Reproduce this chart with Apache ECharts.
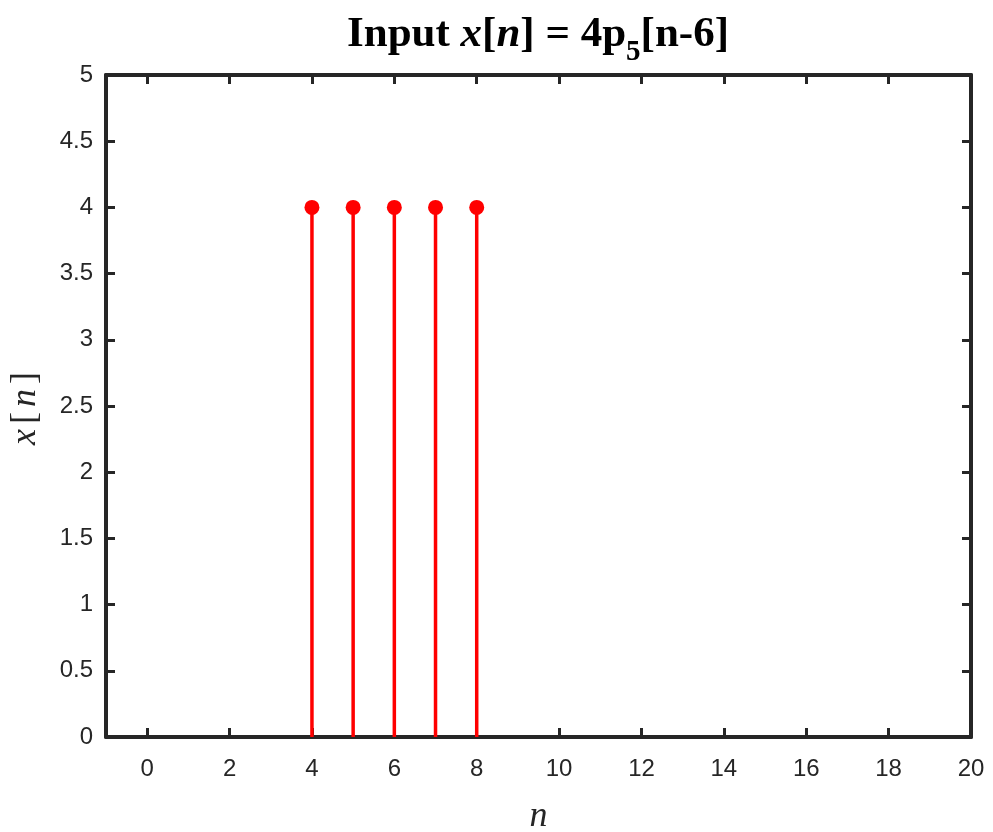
<!DOCTYPE html>
<html><head><meta charset="utf-8">
<script src="https://cdn.jsdelivr.net/npm/echarts@6/dist/echarts.min.js"></script>
<style>html,body{margin:0;padding:0;background:#fff}#c{width:993px;height:832px}</style>
</head><body><div id="c"></div>
<script>
const n = [4, 5, 6, 7, 8];
const xn = [4, 4, 4, 4, 4];
const xTicks = [0, 2, 4, 6, 8, 10, 12, 14, 16, 18, 20];
const yTicks = [0, 0.5, 1, 1.5, 2, 2.5, 3, 3.5, 4, 4.5, 5];

const pts = n.map((v, i) => [v, xn[i]]);
const axisColor = '#262626';
const serif = '"Liberation Serif","Times New Roman",serif';
const sans = '"Liberation Sans",Arial,Helvetica,sans-serif';

const chart = echarts.init(document.getElementById('c'), null, {renderer: 'canvas'});
const commonX = {
  type: 'value', min: -1, max: 20,
  axisLine: {show: true, onZero: false, lineStyle: {color: axisColor, width: 4}},
  axisTick: {show: true, inside: true, length: 9, lineStyle: {color: axisColor, width: 3}, customValues: xTicks},
  splitLine: {show: false}
};
const commonY = {
  type: 'value', min: 0, max: 5, interval: 0.5,
  axisLine: {show: true, onZero: false, lineStyle: {color: axisColor, width: 4}},
  axisTick: {show: true, inside: true, length: 9, lineStyle: {color: axisColor, width: 3}, customValues: yTicks},
  splitLine: {show: false}
};
chart.setOption({
  animation: false,
  grid: {left: 106, right: 22, top: 75, bottom: 95, containLabel: false, outerBoundsMode: 'none'},
  graphic: [{
    type: 'text', x: 538, y: 35,
    style: {
      text: '{b|Input }{i|x}{b|[}{i|n}{b|] = 4p}{s|5}{b|[n-6]}',
      align: 'center', verticalAlign: 'middle',
      rich: {
        b: {fontFamily: serif, fontWeight: 'bold', fontSize: 43, lineHeight: 64, fill: '#000'},
        i: {fontFamily: serif, fontWeight: 'bold', fontStyle: 'italic', fontSize: 43, lineHeight: 64, fill: '#000'},
        s: {fontFamily: serif, fontWeight: 'bold', fontSize: 29, lineHeight: 18, verticalAlign: 'bottom', fill: '#000'}
      }
    }
  }],
  xAxis: [
    Object.assign({}, commonX, {
      position: 'bottom',
      axisLabel: {show: true, margin: 20, color: axisColor, fontFamily: sans, fontSize: 24, customValues: xTicks},
      name: 'n', nameLocation: 'middle', nameGap: 62,
      nameTextStyle: {fontFamily: serif, fontStyle: 'italic', fontSize: 36, color: axisColor}
    }),
    Object.assign({}, commonX, {position: 'top', axisLabel: {show: false}})
  ],
  yAxis: [
    Object.assign({}, commonY, {
      position: 'left',
      axisLabel: {show: true, margin: 13, color: axisColor, fontFamily: sans, fontSize: 24},
      name: '{i|x}{r|[}{i|n}{r|]}', nameLocation: 'middle', nameGap: 62,
      nameTextStyle: {
        color: axisColor,
        rich: {
          i: {fontFamily: serif, fontStyle: 'italic', fontSize: 36, color: axisColor},
          r: {fontFamily: serif, fontSize: 36, color: axisColor, padding: [0, 5, 0, 5]}
        }
      }
    }),
    Object.assign({}, commonY, {position: 'right', axisLabel: {show: false}})
  ],
  series: [{
    type: 'custom',
    xAxisIndex: 0, yAxisIndex: 0,
    data: pts,
    z: 1,
    renderItem: function (params, api) {
      const p0 = api.coord([api.value(0), 0]);
      const p1 = api.coord([api.value(0), api.value(1)]);
      return {type: 'line', shape: {x1: p0[0], y1: p0[1], x2: p1[0], y2: p1[1]},
        style: {stroke: '#ff0000', lineWidth: 3.5}};
    }
  }, {
    type: 'scatter', xAxisIndex: 0, yAxisIndex: 0,
    data: pts, symbol: 'circle', symbolSize: 15,
    itemStyle: {color: '#ff0000', opacity: 1}, z: 3
  }]
});
</script></body></html>
